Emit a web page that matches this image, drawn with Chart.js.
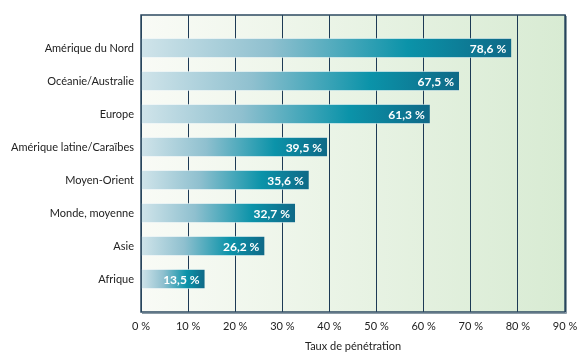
<!DOCTYPE html>
<html>
<head>
<meta charset="utf-8">
<script src="https://cdn.jsdelivr.net/npm/chart.js@4"></script>
<style>
  html, body { margin: 0; padding: 0; background: #fff; }
  #wrap { width: 580px; height: 361px; }
</style>
</head>
<body>
<div id="wrap"><canvas id="chart" width="580" height="361"></canvas></div>
<script>
const regions = ['Amérique du Nord', 'Océanie/Australie', 'Europe', 'Amérique latine/Caraïbes',
  'Moyen-Orient', 'Monde, moyenne', 'Asie', 'Afrique'];
const penetration = [78.6, 67.5, 61.3, 39.5, 35.6, 32.7, 26.2, 13.5];
const xTicks = [0, 10, 20, 30, 40, 50, 60, 70, 80, 90];

const FONT = 'Lato, "Open Sans", sans-serif';

function fmt(v) {
  return v.toFixed(1).replace('.', ',') + ' %';
}

// bar gradient: light on the left, teal, then darker at the end
function barColor(ctx) {
  const chart = ctx.chart;
  if (!chart.chartArea || ctx.raw == null) return '#0b8ea6';
  const x = chart.scales.x;
  const x0 = x.getPixelForValue(0);
  const x1 = x.getPixelForValue(ctx.raw.x);
  const g = chart.ctx.createLinearGradient(x0, 0, x1, 0);
  g.addColorStop(0, '#d0e4ea');
  g.addColorStop(0.35, '#8fc0cf');
  g.addColorStop(0.72, '#0b93a9');
  g.addColorStop(1, '#0f6987');
  return g;
}

const plotBg = {
  id: 'plotBg',
  beforeDraw(chart) {
    const a = chart.chartArea, c = chart.ctx;
    const g = c.createLinearGradient(a.left, 0, a.right, 0);
    g.addColorStop(0, '#f9fbf6');
    g.addColorStop(1, '#d8ebd3');
    c.save();
    c.fillStyle = g;
    c.fillRect(a.left, a.top, a.right - a.left, a.bottom - a.top);
    c.restore();
  },
  afterDraw(chart) {
    const a = chart.chartArea, c = chart.ctx;
    c.save();
    c.strokeStyle = '#8a9ba5';
    c.lineWidth = 1;
    c.beginPath();
    c.moveTo(a.right + 1.5, a.top + 1);
    c.lineTo(a.right + 1.5, a.bottom + 1.5);
    c.lineTo(a.left + 1, a.bottom + 1.5);
    c.stroke();
    c.strokeStyle = '#2c4a60';
    c.lineWidth = 1.5;
    c.strokeRect(a.left, a.top, a.right - a.left, a.bottom - a.top);
    c.restore();
  }
};

const valueLabels = {
  id: 'valueLabels',
  afterDatasetsDraw(chart) {
    const c = chart.ctx;
    const meta = chart.getDatasetMeta(0);
    c.save();
    c.font = 'bold 12px ' + FONT;
    c.fillStyle = '#ffffff';
    c.textAlign = 'right';
    c.textBaseline = 'middle';
    meta.data.forEach((bar, i) => {
      c.fillText(fmt(penetration[i]), bar.x - 5, bar.y + 1);
    });
    c.restore();
  }
};

new Chart(document.getElementById('chart'), {
  type: 'bar',
  data: {
    datasets: [{
      data: penetration.map((v, i) => ({ x: v, y: i + 1 })),
      backgroundColor: barColor,
      borderColor: 'rgba(255,255,255,0.6)',
      borderWidth: { top: 1, bottom: 1, left: 0, right: 0 },
      borderSkipped: false,
      barThickness: 20
    }]
  },
  options: {
    indexAxis: 'y',
    responsive: false,
    animation: false,
    layout: { padding: { top: 15, right: 15, left: 0, bottom: 8 } },
    plugins: {
      legend: { display: false },
      tooltip: { enabled: false }
    },
    scales: {
      x: {
        type: 'linear',
        min: 0,
        max: 90,
        afterBuildTicks(axis) { axis.ticks = xTicks.map(v => ({ value: v })); },
        afterFit(axis) {
          axis.height = 41;
          axis.paddingLeft = 0;
          axis.paddingRight = 0;
        },
        grid: { color: '#1d3a55', lineWidth: 1, drawTicks: false },
        border: { display: false },
        ticks: {
          padding: 8,
          color: '#222',
          font: { family: FONT, size: 11 },
          callback: v => v + ' %'
        },
        title: {
          display: true,
          text: 'Taux de pénétration',
          color: '#222',
          font: { family: FONT, size: 11 },
          padding: { top: 0, bottom: 0 }
        }
      },
      y: {
        type: 'linear',
        reverse: true,
        offset: false,
        min: 0,
        max: 9,
        afterBuildTicks(axis) { axis.ticks = regions.map((r, i) => ({ value: i + 1 })); },
        afterFit(axis) { axis.width = 141; },
        grid: { display: false, drawTicks: false, offset: false },
        border: { display: false },
        ticks: {
          padding: 7,
          color: '#222',
          font: { family: FONT, size: 11 },
          callback: v => regions[v - 1] || ''
        }
      }
    }
  },
  plugins: [plotBg, valueLabels]
});
</script>
</body>
</html>
